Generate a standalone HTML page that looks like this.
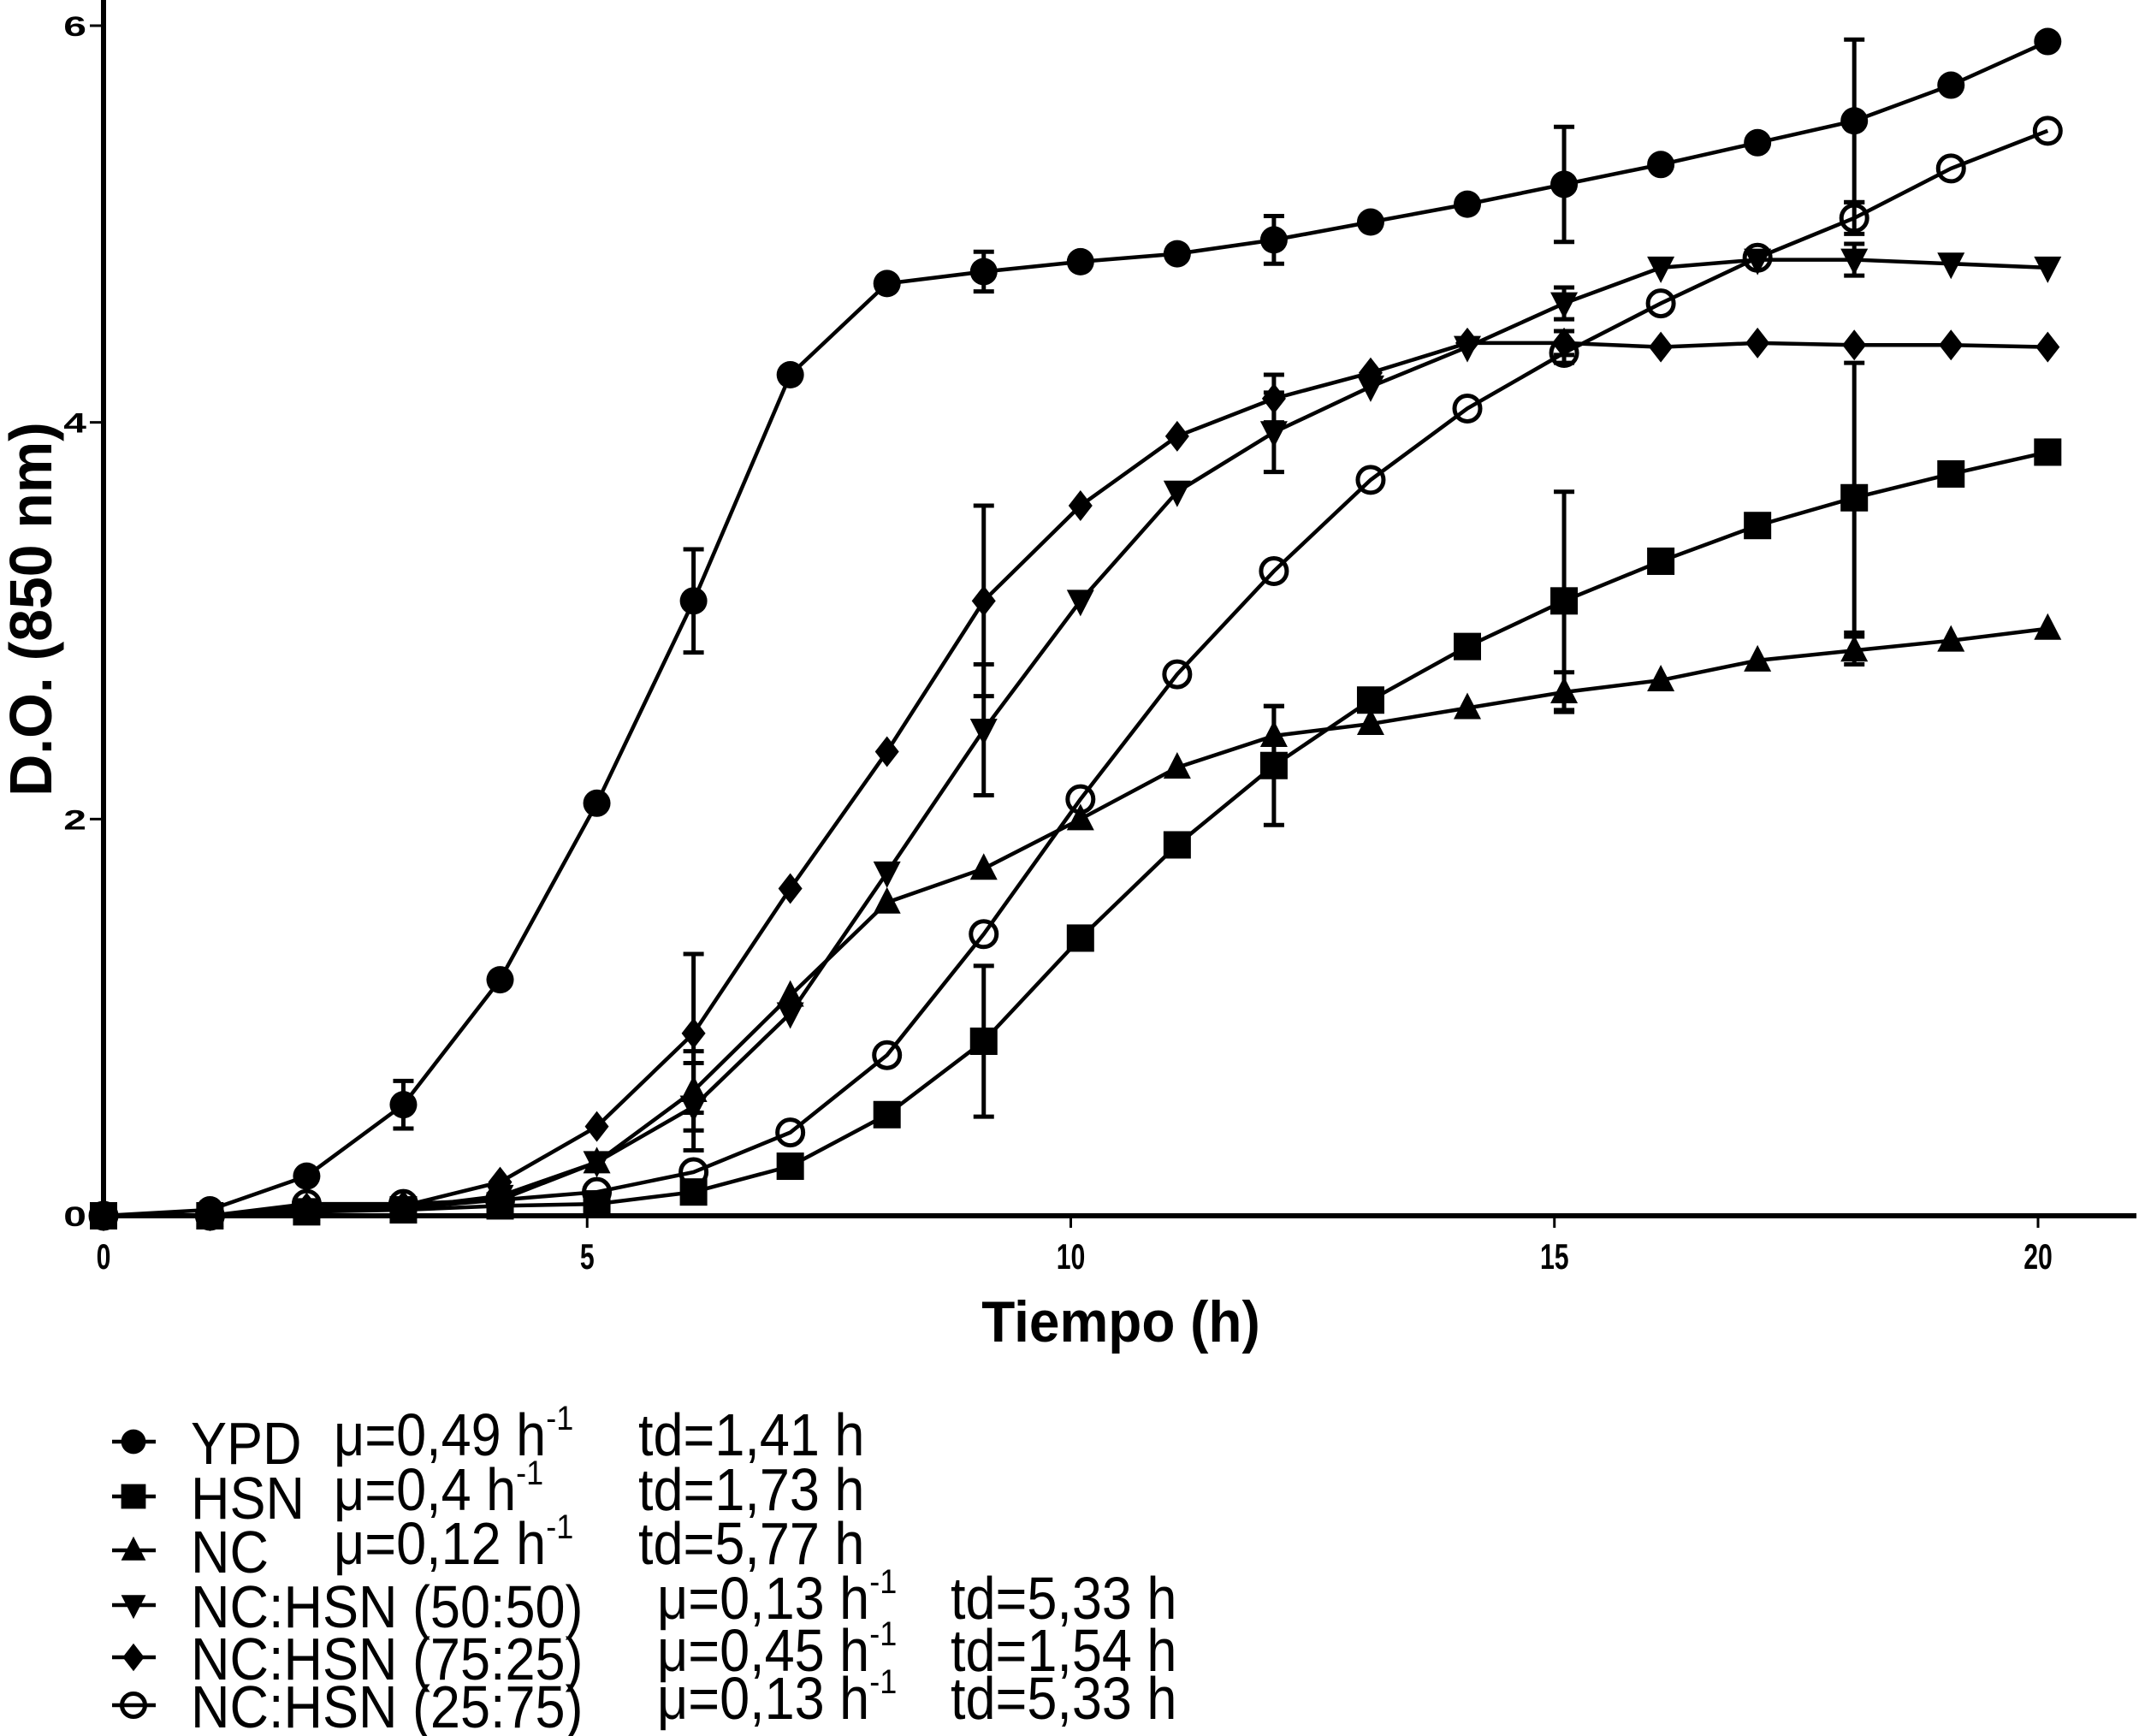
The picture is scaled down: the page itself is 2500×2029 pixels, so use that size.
<!DOCTYPE html>
<html><head><meta charset="utf-8"><style>
html,body{margin:0;padding:0;background:#fff;}
svg{display:block;}
text{font-family:"Liberation Sans",Arial,sans-serif;fill:#000;}
</style></head><body>
<svg id="chart" width="2500" height="2029" viewBox="0 0 2500 2029" xmlns="http://www.w3.org/2000/svg"></svg>
<script>
const times = [0,1.1,2.1,3.1,4.1,5.1,6.1,7.1,8.1,9.1,10.1,11.1,12.1,13.1,14.1,15.1,16.1,17.1,18.1,19.1,20.1];
const ypd   = [0,0.03,0.2,0.56,1.19,2.08,3.1,4.24,4.7,4.76,4.81,4.85,4.92,5.01,5.1,5.2,5.3,5.41,5.52,5.7,5.92];
const hsn   = [0,0,0.02,0.03,0.05,0.06,0.12,0.25,0.51,0.88,1.4,1.87,2.27,2.6,2.87,3.1,3.3,3.48,3.62,3.74,3.85];
const nc    = [0,0,0.03,0.04,0.08,0.27,0.63,1.11,1.58,1.75,2.0,2.26,2.42,2.48,2.56,2.64,2.7,2.8,2.85,2.9,2.96];
const mix5050 = [0,0,0.03,0.04,0.1,0.27,0.55,1.02,1.73,2.45,3.1,3.65,3.95,4.18,4.38,4.6,4.78,4.82,4.82,4.8,4.78];
const mix7525 = [0,0,0.04,0.05,0.17,0.45,0.92,1.65,2.34,3.1,3.58,3.93,4.12,4.25,4.4,4.4,4.38,4.4,4.39,4.39,4.38];
const mix2575 = [0,0,0.06,0.06,0.08,0.12,0.22,0.42,0.81,1.42,2.1,2.73,3.25,3.71,4.07,4.35,4.6,4.83,5.03,5.28,5.47];
// error bars: [index, +/- value]
const ypdErr  = [[3,0.12],[6,0.26],[9,0.1],[12,0.12],[15,0.29],[18,0.41]];
const hsnErr  = [[9,0.38],[12,0.3],[15,0.55],[18,0.68]];
const ncErr   = [[6,0.2],[12,0.15],[15,0.1],[18,0.07]];
const e5050   = [[6,0.22],[9,0.33],[12,0.2],[15,0.08],[18,0.08]];
const e7525   = [[6,0.4],[9,0.48],[12,0.12],[15,0.06]];
const e2575   = [[15,0.05],[18,0.08]];
const xTicks = [0,5,10,15,20];
const yTicks = [0,2,4,6];

const NS="http://www.w3.org/2000/svg";
const svg=document.getElementById('chart');
const X0=121,X1=2382,Y0=1421,Y6=30;
const xs=v=>X0+(X1-X0)*v/20;
const ys=v=>Y0-(Y0-Y6)*v/6;
function mk(tag,attrs,parent){const e=document.createElementNS(NS,tag);for(const k in attrs)e.setAttribute(k,attrs[k]);(parent||svg).appendChild(e);return e;}
function stext(x,y,sx,attrs,parent,str){
  const t=mk('text',Object.assign({x:0,y:0,transform:`translate(${x},${y}) scale(${sx},1)`},attrs),parent);
  t.textContent=str;return t;
}

// axes
const ax=mk('g',{});


mk('line',{x1:X0,y1:Y0,x2:2497,y2:Y0,stroke:'#000','stroke-width':6},ax);
mk('line',{x1:X0,y1:0,x2:X0,y2:Y0+3,stroke:'#000','stroke-width':6},ax);
xTicks.forEach(t=>{
  mk('line',{x1:xs(t),y1:Y0,x2:xs(t),y2:Y0+14,stroke:'#000','stroke-width':3},ax);
  const tx=stext(xs(t),1483,0.72,{'text-anchor':'middle','font-size':42,'font-weight':'bold'},ax,String(t));
  
  
});
yTicks.forEach(t=>{
  mk('line',{x1:X0-16,y1:ys(t),x2:X0,y2:ys(t),stroke:'#000','stroke-width':3},ax);
  const tx=stext(X0-20,ys(t)+12,1.5,{'text-anchor':'end','font-size':32,'font-weight':'bold'},ax,String(t));
  
  
});
const xt=stext(1310,1568,0.94,{'text-anchor':'middle','font-size':68,'font-weight':'bold'},svg,'Tiempo (h)');


const yt=mk('text',{x:0,y:0,'text-anchor':'middle','font-size':70,'font-weight':'bold',transform:'translate(60,712) rotate(-90) scale(0.97,1)'});
yt.textContent='D.O. (850 nm)';



function marker(type,x,y,g,s){
  s=s||1;
  if(type==='circle') return mk('circle',{cx:x,cy:y,r:16*s,fill:'#000'},g);
  if(type==='open') return mk('circle',{cx:x,cy:y,r:15*s,fill:'none',stroke:'#000','stroke-width':5},g);
  if(type==='square') return mk('rect',{x:x-16*s,y:y-16*s,width:32*s,height:32*s,fill:'#000'},g);
  if(type==='tri') return mk('polygon',{points:`${x},${y-18*s} ${x-16*s},${y+13*s} ${x+16*s},${y+13*s}`,fill:'#000'},g);
  if(type==='dtri') return mk('polygon',{points:`${x},${y+18*s} ${x-16*s},${y-13*s} ${x+16*s},${y-13*s}`,fill:'#000'},g);
  if(type==='diamond') return mk('polygon',{points:`${x},${y-18*s} ${x+14*s},${y} ${x},${y+18*s} ${x-14*s},${y}`,fill:'#000'},g);
}
const series=[
 ['ypd',ypd,ypdErr,'circle'],
 ['hsn',hsn,hsnErr,'square'],
 ['nc',nc,ncErr,'tri'],
 ['nc-hsn-50-50',mix5050,e5050,'dtri'],
 ['nc-hsn-75-25',mix7525,e7525,'diamond'],
 ['nc-hsn-25-75',mix2575,e2575,'open']
];
series.forEach(([name,vals,errs,type])=>{
  const g=mk('g',{});
  
  
  const pts=vals.map((v,i)=>xs(times[i])+','+ys(v)).join(' ');
  const pl=mk('polyline',{points:pts,fill:'none',stroke:'#000','stroke-width':4.5},g);
  
  
  errs.forEach(([i,e])=>{
    const x=xs(times[i]),yh=ys(vals[i]+e),yl=ys(vals[i]-e);
    const eb=mk('path',{d:`M${x},${yh}V${yl}M${x-12},${yh}H${x+12}M${x-12},${yl}H${x+12}`,stroke:'#000','stroke-width':5,fill:'none'},g);
    
    
  });
  vals.forEach((v,i)=>{
    const m=marker(type,xs(times[i]),ys(v),g);
    
    
  });
});

// legend
const legRows=[
 ['circle','YPD','μ=0,49 h','td=1,41 h',390,746],
 ['square','HSN','μ=0,4 h','td=1,73 h',390,746],
 ['tri','NC','μ=0,12 h','td=5,77 h',390,746],
 ['dtri','NC:HSN (50:50)','μ=0,13 h','td=5,33 h',768,1111],
 ['diamond','NC:HSN (75:25)','μ=0,45 h','td=1,54 h',768,1111],
 ['open','NC:HSN (25:75)','μ=0,13 h','td=5,33 h',768,1111]
];
const legY=[1685,1749,1812,1876,1937,1993];
const lg=mk('g',{});


legRows.forEach((r,k)=>{
  const y=legY[k];
  const g=mk('g',{},lg);
  
  
  mk('line',{x1:131,y1:y,x2:182,y2:y,stroke:'#000','stroke-width':4.5},g);
  marker(r[0],156,y,g,0.9);
  stext(223,y+26,0.9,{'font-size':70},g,r[1]);
  const t2=stext(r[4],y+16,0.9,{'font-size':70},g,r[2]);
  const sup=mk('tspan',{dy:-30,'font-size':40},t2);sup.textContent='-1';
  stext(r[5],y+16,0.9,{'font-size':70},g,r[3]);
});
</script>
</body></html>
